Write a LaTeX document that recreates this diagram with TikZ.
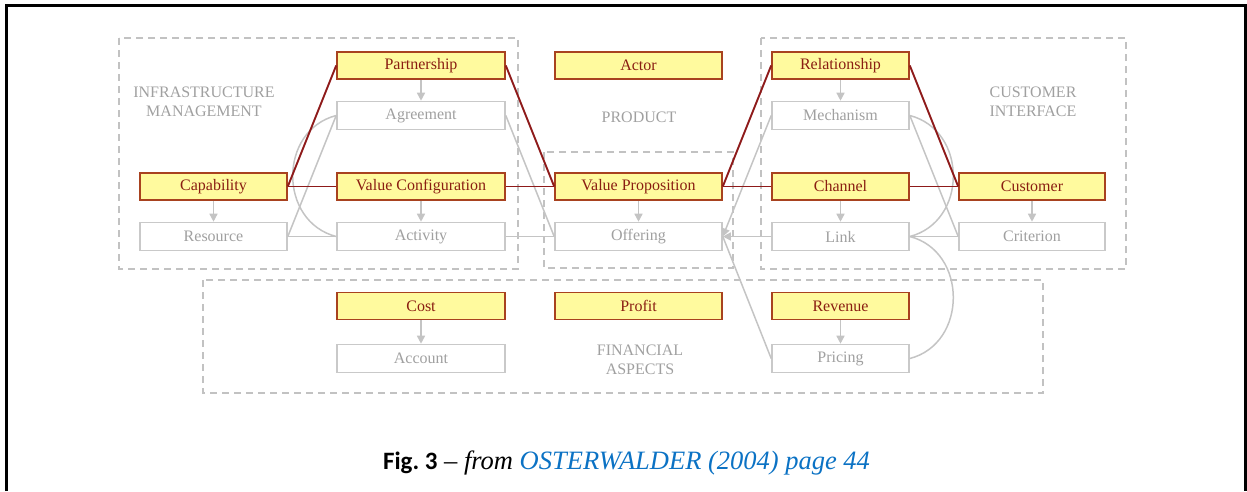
\documentclass[tikz,border=0pt]{standalone}
\usepackage{fontspec}
\setmainfont{Liberation Serif}
\newfontfamily\capsans{Carlito}
\usetikzlibrary{arrows.meta}
\definecolor{yfill}{HTML}{FFFA9E}
\definecolor{ybord}{HTML}{A8421F}
\definecolor{ytext}{HTML}{8A1E12}
\definecolor{redln}{HTML}{8E1A1A}
\definecolor{gbord}{HTML}{C9C9C9}
\definecolor{gtext}{HTML}{A0A0A0}
\definecolor{glin}{HTML}{C4C4C4}
\definecolor{dashc}{HTML}{C2C2C2}
\definecolor{linkblue}{HTML}{0B72C4}
\tikzset{
  yel/.style={draw=ybord, fill=yfill, text=ytext, line width=1.6pt,
    minimum height=27pt, inner sep=0pt, font=\fontsize{16}{19}\selectfont},
  gry/.style={draw=gbord, fill=white, text=gtext, line width=1.6pt,
    minimum height=28pt, inner sep=0pt, font=\fontsize{16}{19}\selectfont},
  wA/.style={minimum width=147pt},
  wB/.style={minimum width=168pt},
  wC/.style={minimum width=167pt},
  wD/.style={minimum width=137pt},
  wE/.style={minimum width=146pt},
  area/.style={draw=dashc, line width=1.4pt, dash pattern=on 7pt off 5pt},
  seclabel/.style={text=gtext, align=center, inner sep=0pt,
    font=\fontsize{16}{19}\selectfont},
  redlink/.style={draw=redln, line width=1.9pt},
  grylink/.style={draw=glin, line width=1.5pt},
  sub/.style={draw=glin, line width=1.5pt, -{Triangle[length=8pt,width=8pt]}},
}
\begin{document}
\begin{tikzpicture}[x=1pt,y=1pt]
\useasboundingbox (0,0) rectangle (1247,-491);
% outer frame, open at the bottom
\draw[line width=3pt] (6,-491) -- (6,-5) -- (1245,-5) -- (1245,-491);

% dashed areas
\draw[area] (119,-38) rectangle (518,-269);
\draw[area] (761,-38) rectangle (1126,-269);
\draw[area] (544,-152) rectangle (733,-268);
\draw[area] (203,-280) rectangle (1043,-393);

% area titles
\node[seclabel] (tInfra) at (204,-101.5) {INFRASTRUCTURE\\MANAGEMENT};
\node[seclabel] (tProd) at (639,-117) {PRODUCT};
\node[seclabel] (tCust) at (1033,-101.5) {CUSTOMER\\INTERFACE};
\node[seclabel] (tFin) at (640,-359.5) {FINANCIAL\\ASPECTS};

% building blocks (yellow) and their sub-elements (grey)
\node[yel,wB] (part) at (421,-65.5) {Partnership};
\node[gry,wB] (agr)  at (421,-115.5) {Agreement};
\node[yel,wA] (cap)  at (213.5,-186.5) {Capability};
\node[gry,wA] (res)  at (213.5,-236.5) {Resource};
\node[yel,wB] (vcon) at (421,-186.5) {Value Configuration};
\node[gry,wB] (act)  at (421,-236.5) {Activity};

\node[yel,wC] (actor) at (638.5,-65.5) {Actor};
\node[yel,wC] (vprop) at (638.5,-186.5) {Value Proposition};
\node[gry,wC] (offer) at (638.5,-236.5) {Offering};

\node[yel,wD] (rel)  at (840.5,-65.5) {Relationship};
\node[gry,wD] (mech) at (840.5,-115.5) {Mechanism};
\node[yel,wD] (chan) at (840.5,-186.5) {Channel};
\node[gry,wD] (link) at (840.5,-236.5) {Link};
\node[yel,wE] (cust) at (1032,-186.5) {Customer};
\node[gry,wE] (crit) at (1032,-236.5) {Criterion};

\node[yel,wB] (cost) at (421,-306) {Cost};
\node[gry,wB] (acc)  at (421,-358.5) {Account};
\node[yel,wC] (prof) at (638.5,-306) {Profit};
\node[yel,wD] (rev)  at (840.5,-306) {Revenue};
\node[gry,wD] (pric) at (840.5,-358.5) {Pricing};

% grey relations between sub-elements
\draw[grylink] (res.east) -- (agr.west);
\draw[grylink] (res.east) -- (act.west);
\draw[grylink] (agr.west) .. controls +(-58,-15) and +(-58,15) .. (act.west);
\draw[grylink] (agr.east) -- (offer.west);
\draw[grylink] (act.east) -- (offer.west);
\draw[sub] (mech.west) -- (offer.east);
\draw[sub] (link.west) -- (offer.east);
\draw[grylink] (offer.east) -- (pric.west);
\draw[grylink] (mech.east) -- (crit.west);
\draw[grylink] (mech.east) .. controls +(58,-15) and +(58,15) .. (link.east);
\draw[grylink] (link.east) -- (crit.west);
\draw[grylink] (link.east) .. controls +(58,-15) and +(58,15) .. (pric.east);

% building block decomposition arrows
\draw[sub] (part) -- (agr);
\draw[sub] (cap) -- (res);
\draw[sub] (vcon) -- (act);
\draw[sub] (vprop) -- (offer);
\draw[sub] (rel) -- (mech);
\draw[sub] (chan) -- (link);
\draw[sub] (cust) -- (crit);
\draw[sub] (cost) -- (acc);
\draw[sub] (rev) -- (pric);

% red relations between building blocks
\draw[redlink] (cap.east) -- (part.west);
\draw[redlink] (cap.east) -- (vcon.west);
\draw[redlink] (part.east) -- (vprop.west);
\draw[redlink] (vcon.east) -- (vprop.west);
\draw[redlink] (vprop.east) -- (rel.west);
\draw[redlink] (vprop.east) -- (chan.west);
\draw[redlink] (rel.east) -- (cust.west);
\draw[redlink] (chan.east) -- (cust.west);

% caption
\node[anchor=base, inner sep=0pt] (caption) at (626.5,-469)
  {{\capsans\bfseries\fontsize{25}{28}\selectfont Fig.~3}\fontsize{26.5}{29}\selectfont\ \textendash\ \textit{from} {\color{linkblue}\itshape OSTERWALDER (2004) page 44}};
\end{tikzpicture}
\end{document}
